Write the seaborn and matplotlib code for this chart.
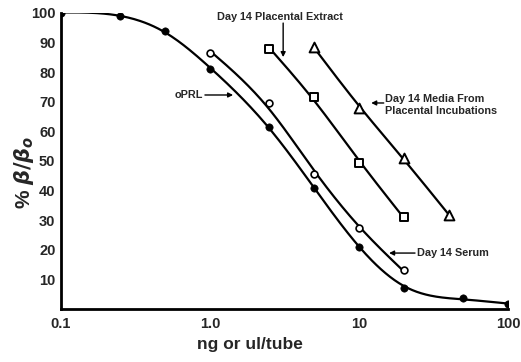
import numpy as np
import pandas as pd
import matplotlib
matplotlib.use("Agg")
import matplotlib.pyplot as plt
import seaborn as sns

# dose (ng or ul/tube) and % B/B0
oprl_x = [0.1, 0.25, 0.5, 1.0, 2.5, 5, 10, 20, 50, 100]
oprl_y = [100, 99, 94, 81, 61.5, 41, 21, 7, 3.8, 1.8]

serum_x = [1.0, 2.5, 5, 10, 20]
serum_y = [86.5, 69.5, 45.5, 27.4, 13.2]

extract_x = [2.5, 5, 10, 20]
extract_y = [87.8, 71.5, 49.3, 31]

media_x = [5, 10, 20, 40]
media_y = [88.5, 68, 51, 31.8]


def spline(lx, y, n=300):
    # natural cubic spline through (lx, y)
    k = len(y)
    h = np.diff(lx)
    d = np.diff(y) / h
    A = np.zeros((k, k))
    r = np.zeros(k)
    A[0, 0] = A[-1, -1] = 1
    for i in range(1, k - 1):
        A[i, i - 1] = h[i - 1]
        A[i, i] = 2 * (h[i - 1] + h[i])
        A[i, i + 1] = h[i]
        r[i] = 6 * (d[i] - d[i - 1])
    M = np.linalg.solve(A, r)
    xs = np.linspace(lx[0], lx[-1], n)
    j = np.clip(np.searchsorted(lx, xs) - 1, 0, k - 2)
    a, b = lx[j + 1] - xs, xs - lx[j]
    ys = (M[j] * a**3 + M[j + 1] * b**3) / (6 * h[j]) \
        + (y[j] / h[j] - M[j] * h[j] / 6) * a \
        + (y[j + 1] / h[j] - M[j + 1] * h[j] / 6) * b
    return xs, ys


def smooth_curve(x, y, lam):
    # Reinsch smoothing spline in log dose
    lx = np.log10(np.asarray(x, float))
    y = np.asarray(y, float)
    n = len(y)
    h = np.diff(lx)
    Q = np.zeros((n, n - 2))
    R = np.zeros((n - 2, n - 2))
    for j in range(1, n - 1):
        c = j - 1
        Q[j - 1, c] = 1 / h[j - 1]
        Q[j, c] = -1 / h[j - 1] - 1 / h[j]
        Q[j + 1, c] = 1 / h[j]
        R[c, c] = (h[j - 1] + h[j]) / 3
        if c + 1 < n - 2:
            R[c, c + 1] = R[c + 1, c] = h[j] / 6
    g = np.linalg.solve(R + lam * Q.T @ Q, Q.T @ y)
    f = y - lam * Q @ g
    xs, ys = spline(lx, f)
    return pd.DataFrame({"x": 10 ** xs, "y": ys})


sns.set_style("white")
plt.rcParams["font.family"] = ["Liberation Sans", "DejaVu Sans"]
plt.rcParams["font.weight"] = "bold"

fig = plt.figure(figsize=(5.21, 3.62), dpi=100)
ax = fig.add_axes([61 / 521, 1 - 309 / 362, 447 / 521, 296 / 362])

lw = 1.6
sns.lineplot(data=smooth_curve(oprl_x, oprl_y, 0.0015), x="x", y="y",
             color="black", lw=lw, ax=ax)
for xs, ys in [(serum_x, serum_y), (extract_x, extract_y), (media_x, media_y)]:
    sns.lineplot(data=smooth_curve(xs, ys, 0.003), x="x", y="y",
                 color="black", lw=lw, ax=ax)

sns.scatterplot(x=oprl_x, y=oprl_y, marker="o", s=28, color="black",
                edgecolor="black", zorder=5, ax=ax)
sns.scatterplot(x=serum_x, y=serum_y, marker="o", s=24, color="white",
                edgecolor="black", linewidth=1.2, zorder=5, ax=ax)
sns.scatterplot(x=extract_x, y=extract_y, marker="s", s=34, color="white",
                edgecolor="black", linewidth=1.4, zorder=5, ax=ax)
sns.scatterplot(x=media_x, y=media_y, marker="^", s=50, color="white",
                edgecolor="black", linewidth=1.4, zorder=5, ax=ax)

ax.set_xscale("log")
ax.set_xlim(0.1, 100)
ax.set_ylim(0, 100)
ax.set_xticks([0.1, 1, 10, 100])
ax.set_xticklabels(["0.1", "1.0", "10", "100"])
ax.xaxis.set_minor_locator(matplotlib.ticker.NullLocator())
ax.set_yticks(range(10, 101, 10))
ax.tick_params(axis="y", direction="out", length=3, width=1.5, labelsize=10.5, pad=1)
ax.tick_params(axis="x", direction="in", length=3, width=1.5, labelsize=10.5, pad=6)
for lab in ax.get_xticklabels() + ax.get_yticklabels():
    lab.set_fontweight("bold")
for side in ["top", "right"]:
    ax.spines[side].set_visible(False)
for side in ["left", "bottom"]:
    ax.spines[side].set_linewidth(2)
    ax.spines[side].set_color("black")
ax.set_xlabel("")
ax.set_ylabel("")

fig.text(250 / 521, 1 - 345 / 362, "ng or ul/tube", ha="center", va="center",
         fontsize=12.5, fontweight="bold")
fig.text(24 / 521, 1 - 172 / 362, r"% $\beta/\beta_o$", rotation=90,
         ha="center", va="center", fontsize=15, fontweight="bold")

fs = 7.8
arrow = dict(arrowstyle="-|>", color="black", lw=1, mutation_scale=7,
             shrinkA=0, shrinkB=0)
ax.text(0.49, 0.986, "Day 14 Placental Extract", transform=ax.transAxes,
        ha="center", va="center", fontsize=fs, fontweight="bold")
ax.annotate("", xy=(0.497, 0.851), xytext=(0.497, 0.966),
            xycoords="axes fraction", arrowprops=arrow)
ax.text(0.318, 0.723, "oPRL", transform=ax.transAxes, ha="right", va="center",
        fontsize=fs, fontweight="bold")
ax.annotate("", xy=(0.385, 0.723), xytext=(0.322, 0.723),
            xycoords="axes fraction", arrowprops=arrow)
ax.text(0.725, 0.69, "Day 14 Media From\nPlacental Incubations",
        transform=ax.transAxes, ha="left", va="center", fontsize=fs,
        fontweight="bold", linespacing=1.3)
ax.annotate("", xy=(0.694, 0.696), xytext=(0.722, 0.696),
            xycoords="axes fraction", arrowprops=arrow)
ax.text(0.796, 0.189, "Day 14 Serum", transform=ax.transAxes, ha="left",
        va="center", fontsize=fs, fontweight="bold")
ax.annotate("", xy=(0.734, 0.189), xytext=(0.792, 0.189),
            xycoords="axes fraction", arrowprops=arrow)

fig.savefig("out.png", dpi=100)
